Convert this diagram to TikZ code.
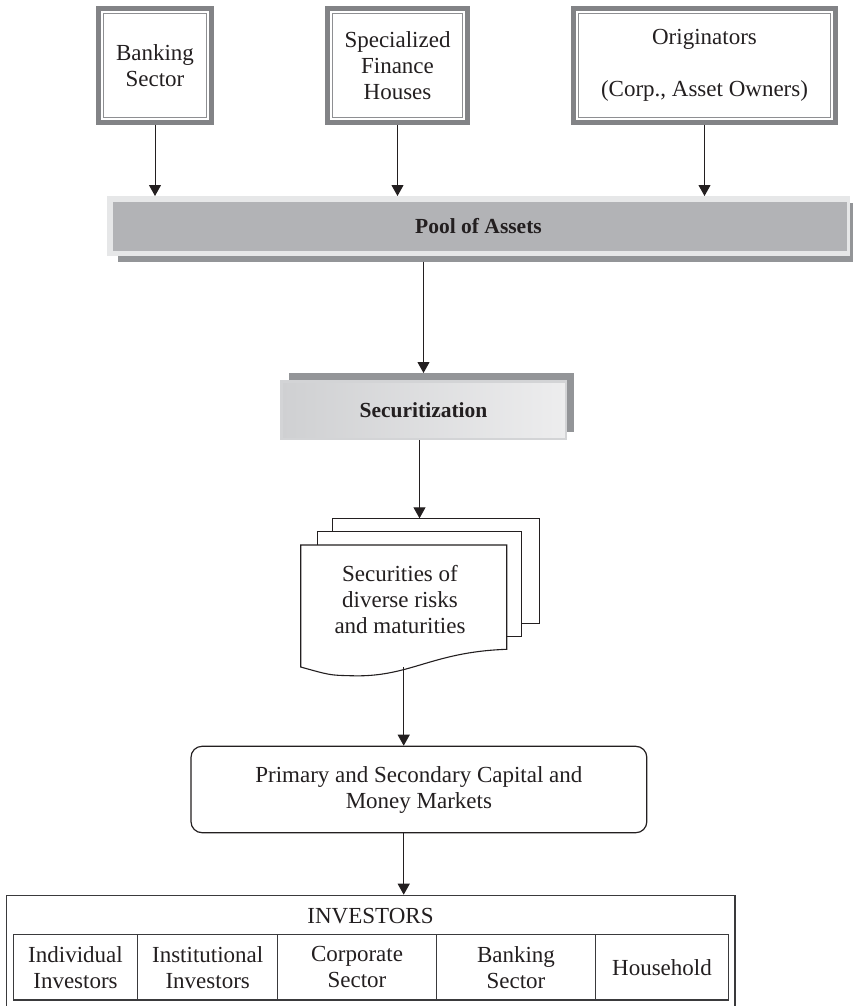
\documentclass[tikz,border=0pt]{standalone}
\usepackage{fontspec}
\setmainfont{Liberation Serif}
\usetikzlibrary{arrows.meta,calc}
\definecolor{ink}{HTML}{231F20}
\definecolor{bandgray}{HTML}{828386}
\definecolor{linegray}{HTML}{8E8F92}
\definecolor{poollight}{HTML}{E6E7E8}
\definecolor{poolfill}{HTML}{B2B3B6}
\definecolor{shadowgray}{HTML}{939598}
\definecolor{secborder}{HTML}{D3D4D6}
\definecolor{secdark}{HTML}{CFD0D2}
\definecolor{seclight}{HTML}{EDEDEE}
\definecolor{cellgray}{HTML}{3A3A3C}
\begin{document}
\begin{tikzpicture}[x=1pt,y=-1pt,
  txt/.style={font=\fontsize{23}{26}\selectfont, text=ink, align=center},
  boldtxt/.style={font=\fontsize{21.5}{26}\selectfont\bfseries, text=ink, align=center},
  topbox/.style={draw=bandgray, line width=5pt, fill=white, inner sep=0pt, outer sep=2.5pt, minimum height=114pt, txt},
  innerline/.style={draw=linegray, line width=1.5pt},
  arr/.style={draw=ink, line width=1pt, -{Triangle[length=11pt,width=12pt]}},
  sheet/.style={draw=ink, line width=1.1pt, fill=white, inner sep=0pt, outer sep=0pt},
  cell/.style={draw=cellgray, line width=1.2pt, inner sep=0pt, minimum height=65.7pt, txt},
  flatbox/.style={inner sep=0pt, outer sep=0pt}
]
\useasboundingbox (0,0) rectangle (853,1006);

% top boxes
\node[topbox, minimum width=113pt] (bank) at (155,65.5) {Banking\\Sector};
\node[topbox, minimum width=140pt] (spec) at (397.5,65.5) {Specialized\\Finance\\Houses};
\node[topbox, minimum width=262pt] (orig) at (704.5,65.5) {Originators\\[26pt](Corp., Asset Owners)};
\foreach \b in {bank,spec,orig}
  \draw[innerline] ([shift={(7.5,7.5)}]\b.north west) rectangle ([shift={(-7.5,-7.5)}]\b.south east);

% pool of assets
\node[flatbox, fill=shadowgray, minimum width=735pt, minimum height=58.5pt] (poolsh) at (485.5,232.25) {};
\node[flatbox, fill=poollight, minimum width=743pt, minimum height=60pt] (pool) at (478.5,226) {};
\fill[poolfill] ([shift={(5.6,5.7)}]pool.north west) rectangle ([shift={(-3.3,-5.5)}]pool.south east);
\node[boldtxt] (pooltext) at (pool.center) {Pool of Assets};

\draw[arr] (bank.south) -- (bank.south |- pool.north);
\draw[arr] (spec.south) -- (spec.south |- pool.north);
\draw[arr] (orig.south) -- (orig.south |- pool.north);

% securitization
\node[flatbox, fill=shadowgray, minimum width=285pt, minimum height=59pt] (secsh) at (431.5,402.5) {};
\node[draw=secborder, line width=2.5pt, inner sep=0pt, outer sep=1.25pt,
      left color=secdark, right color=seclight,
      minimum width=284.5pt, minimum height=57.5pt, boldtxt] (sec) at (423.5,410) {Securitization};
\draw[arr] (sec.north |- poolsh.south) -- (sec.north |- secsh.north);

% document stack
\node[sheet, minimum width=206.6pt, minimum height=105pt] (back) at (436,570.8) {};
\node[sheet, minimum width=204.4pt, minimum height=105pt] (mid) at (419.5,584.2) {};
\node[flatbox, minimum width=206pt, minimum height=122pt] (front) at (403.7,606) {};
\draw[sheet] (front.north west) -- (front.north east) -- ($(front.north east)+(0,104.3)$)
  .. controls (430,652) and (410,678) .. (350,675.7)
  .. controls (330,675.2) .. (front.south west) -- cycle;
\node[txt] (doctext) at (400,600) {Securities of\\diverse risks\\and maturities};
\draw[arr] (sec.south -| mid.north) -- (mid.north |- back.north);

% markets
\node[draw=ink, line width=1.2pt, rounded corners=11pt, inner sep=0pt,
      minimum width=455.8pt, minimum height=86.4pt, txt] (mkt) at (418.9,789.5)
      {Primary and Secondary Capital and\\Money Markets};
\draw[arr] (front.south) -- (front.south |- mkt.north);

% investors
\node[draw=cellgray, line width=1.2pt, inner sep=0pt, minimum width=728.3pt, minimum height=112.7pt] (inv) at (370.85,951.65) {};
\node[txt] (invtitle) at (370.5,916) {INVESTORS};
\draw[arr] (front.south |- mkt.south) -- (front.south |- inv.north);

\node[cell, minimum width=124.4pt] (c1) at (75.5,967.15) {Individual\\Investors};
\node[cell, minimum width=140pt] (c2) at (207.7,967.15) {Institutional\\Investors};
\node[cell, minimum width=158.6pt] (c3) at (357,967.15) {Corporate\\Sector};
\node[cell, minimum width=159.4pt] (c4) at (516,967.15) {Banking\\Sector};
\node[cell, minimum width=132.6pt] (c5) at (662,967.15) {Household};
\end{tikzpicture}
\end{document}
